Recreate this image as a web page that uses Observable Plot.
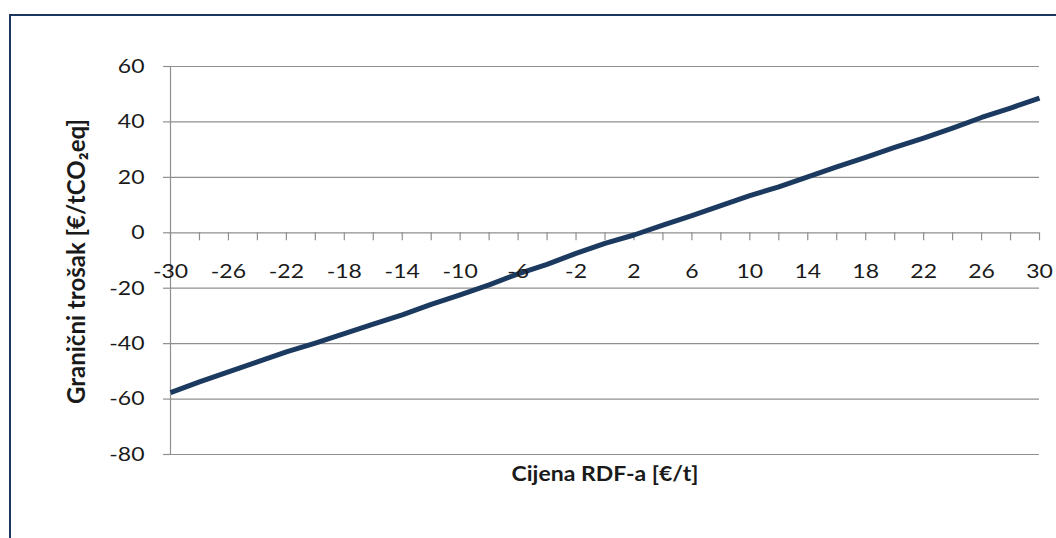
<!DOCTYPE html>
<html>
<head>
<meta charset="utf-8">
<script src="https://cdn.jsdelivr.net/npm/d3@7"></script>
<script src="https://cdn.jsdelivr.net/npm/@observablehq/plot@0.6"></script>
<style>
  html, body { margin: 0; padding: 0; background: #fff; }
  #wrap { position: relative; width: 1056px; height: 538px; overflow: hidden; }
  #frame { position: absolute; left: 9px; top: 14px; width: 1060px; height: 540px;
           border-top: 2px solid #1b375c; border-left: 2px solid #1b375c; pointer-events: none; }
</style>
</head>
<body>
<div id="wrap"><div id="frame"></div></div>
<script>
// Data
const price = [-30,-28,-26,-24,-22,-20,-18,-16,-14,-12,-10,-8,-6,-4,-2,0,2,4,6,8,10,12,14,16,18,20,22,24,26,28,30];
const cost  = [-57.7,-53.8,-50.2,-46.6,-43.0,-39.8,-36.4,-33.0,-29.6,-25.8,-22.4,-18.8,-14.8,-11.4,-7.4,-3.8,-0.8,2.8,6.2,9.8,13.4,16.6,20.2,23.8,27.2,30.8,34.2,37.8,41.6,45.0,48.6];
const xTickMarks = [-30,-28,-26,-24,-22,-20,-18,-16,-14,-12,-10,-8,-6,-4,-2,0,2,4,6,8,10,12,14,16,18,20,22,24,26,28,30];
const xTickLabels = [-30,-26,-22,-18,-14,-10,-6,-2,2,6,10,14,18,22,26,30];
const yTicks = [-80,-60,-40,-20,0,20,40,60];
const xTitle = "Cijena RDF-a [€/t]";
const yTitle = "Granični trošak [€/tCO₂eq]";

const data = price.map((p, i) => ({price: p, cost: cost[i]}));
const font = "Lato, 'Open Sans', sans-serif";
const gridColor = "#8f8f8f";
const textColor = "#1a1a1a";

const chart = Plot.plot({
  width: 1056,
  height: 538,
  marginLeft: 170,
  marginRight: 17,
  marginTop: 66,
  marginBottom: 84,
  style: {fontFamily: font, background: "transparent", overflow: "visible"},
  x: {domain: [-30, 30], axis: null},
  y: {domain: [-80, 60], ticks: yTicks},
  marks: [
    Plot.gridY(yTicks, {stroke: gridColor, strokeOpacity: 1, strokeWidth: 1.2}),
    Plot.ruleX([-30], {y1: -80, y2: 60, stroke: gridColor, strokeWidth: 1.2}),
    Plot.ruleY(yTicks, {x1: -30, x2: -30, insetLeft: -7, stroke: gridColor, strokeWidth: 1.2}),
    Plot.axisY(yTicks, {tickSize: 0, tickPadding: 26, fontSize: 20, label: null, fill: textColor, tickFormat: d => String(d)}),
    Plot.ruleX(xTickMarks, {y1: 0, y2: 0, insetBottom: -8, stroke: gridColor, strokeWidth: 1.2}),
    Plot.line(data, {x: "price", y: "cost", stroke: "#1c3a60", strokeWidth: 5, strokeLinejoin: "round", strokeLinecap: "butt"}),
    Plot.text(xTickLabels, {x: d => d, y: 0, dy: 39, text: d => String(d), fontSize: 20, fill: textColor}),
    Plot.text([xTitle], {frameAnchor: "bottom", lineAnchor: "middle", textAnchor: "middle", dy: 20, text: d => d, fontSize: 20, fontWeight: "bold", fill: textColor}),
    Plot.text([yTitle], {frameAnchor: "left", lineAnchor: "middle", textAnchor: "middle", dx: -93, dy: 1, rotate: -90, text: d => d, fontSize: 24, fontWeight: "bold", fill: textColor})
  ]
});

// Reference text is horizontally stretched: widen horizontal labels slightly
d3.select(chart).selectAll("text").each(function() {
  const t = this.getAttribute("transform") || "";
  if (t.includes("rotate")) return;
  this.setAttribute("transform", (t ? t + " " : "") + "scale(1.15,1)");
});

document.getElementById("wrap").insertBefore(chart, document.getElementById("frame"));
</script>
</body>
</html>
